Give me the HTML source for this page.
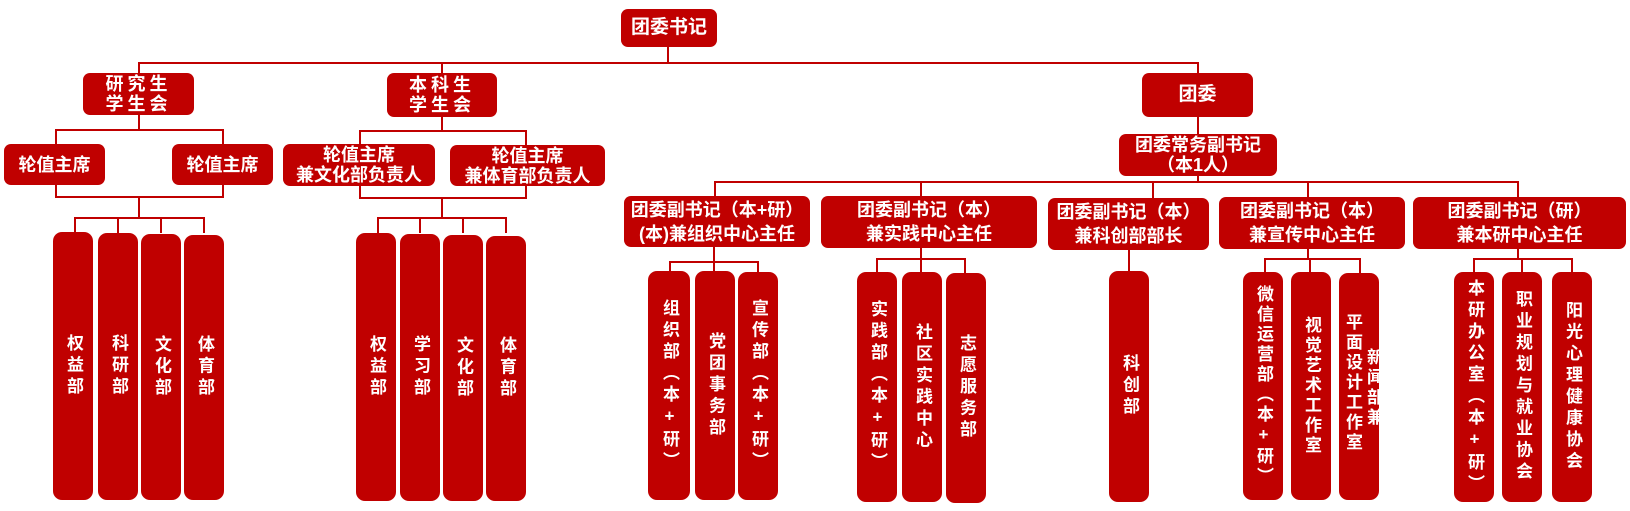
<!DOCTYPE html>
<html><head><meta charset="utf-8"><style>
body{margin:0;width:1630px;height:511px;background:#fff;position:relative;overflow:hidden;font-family:"Liberation Sans","Noto Sans CJK SC",sans-serif;}
.b{position:absolute;background:#c00000;border-radius:7px;color:#fff;font-weight:bold;font-size:18px;line-height:24px;display:flex;align-items:center;justify-content:center;text-align:center;white-space:nowrap;}
.v{position:absolute;background:#c00000;border-radius:9px;color:#fff;font-weight:bold;font-size:17px;writing-mode:vertical-rl;text-orientation:upright;letter-spacing:4.5px;display:flex;align-items:center;justify-content:center;line-height:40px;}
.l{position:absolute;background:#c00000;}
.t{position:absolute;color:#fff;font-weight:bold;font-size:17px;writing-mode:vertical-rl;text-orientation:upright;letter-spacing:3px;line-height:20px;}
</style></head><body>
<!-- lines -->
<div class="l" style="left:667px;top:47px;width:2px;height:17px"></div>
<div class="l" style="left:139px;top:62px;width:1060px;height:2px"></div>
<div class="l" style="left:138px;top:62px;width:2px;height:12px"></div>
<div class="l" style="left:441px;top:62px;width:2px;height:12px"></div>
<div class="l" style="left:1197px;top:62px;width:2px;height:12px"></div>

<div class="l" style="left:138px;top:115px;width:2px;height:16px"></div>
<div class="l" style="left:55px;top:129px;width:169px;height:2px"></div>
<div class="l" style="left:55px;top:129px;width:2px;height:16px"></div>
<div class="l" style="left:222px;top:129px;width:2px;height:16px"></div>
<div class="l" style="left:55px;top:184px;width:2px;height:14px"></div>
<div class="l" style="left:222px;top:184px;width:2px;height:14px"></div>
<div class="l" style="left:55px;top:196px;width:169px;height:2px"></div>
<div class="l" style="left:138px;top:196px;width:2px;height:23px"></div>
<div class="l" style="left:74px;top:217px;width:131px;height:2px"></div>
<div class="l" style="left:74px;top:217px;width:2px;height:16px"></div>
<div class="l" style="left:117px;top:217px;width:2px;height:16px"></div>
<div class="l" style="left:160px;top:217px;width:2px;height:16px"></div>
<div class="l" style="left:203px;top:217px;width:2px;height:16px"></div>

<div class="l" style="left:441px;top:117px;width:2px;height:15px"></div>
<div class="l" style="left:359px;top:130px;width:168px;height:2px"></div>
<div class="l" style="left:359px;top:130px;width:2px;height:15px"></div>
<div class="l" style="left:525px;top:130px;width:2px;height:15px"></div>
<div class="l" style="left:359px;top:185px;width:2px;height:14px"></div>
<div class="l" style="left:525px;top:185px;width:2px;height:14px"></div>
<div class="l" style="left:359px;top:197px;width:168px;height:2px"></div>
<div class="l" style="left:441px;top:197px;width:2px;height:22px"></div>
<div class="l" style="left:377px;top:217px;width:130px;height:2px"></div>
<div class="l" style="left:377px;top:217px;width:2px;height:16px"></div>
<div class="l" style="left:419px;top:217px;width:2px;height:16px"></div>
<div class="l" style="left:462px;top:217px;width:2px;height:16px"></div>
<div class="l" style="left:505px;top:217px;width:2px;height:16px"></div>

<div class="l" style="left:1197px;top:117px;width:2px;height:17px"></div>
<div class="l" style="left:1197px;top:176px;width:2px;height:7px"></div>
<div class="l" style="left:714px;top:181px;width:805px;height:2px"></div>
<div class="l" style="left:714px;top:181px;width:2px;height:16px"></div>
<div class="l" style="left:920px;top:181px;width:2px;height:16px"></div>
<div class="l" style="left:1152px;top:181px;width:2px;height:18px"></div>
<div class="l" style="left:1307px;top:181px;width:2px;height:17px"></div>
<div class="l" style="left:1517px;top:181px;width:2px;height:17px"></div>

<div class="l" style="left:713px;top:247px;width:2px;height:16px"></div>
<div class="l" style="left:669px;top:261px;width:90px;height:2px"></div>
<div class="l" style="left:669px;top:261px;width:2px;height:11px"></div>
<div class="l" style="left:713px;top:261px;width:2px;height:11px"></div>
<div class="l" style="left:757px;top:261px;width:2px;height:11px"></div>

<div class="l" style="left:920px;top:248px;width:2px;height:12px"></div>
<div class="l" style="left:876px;top:258px;width:90px;height:2px"></div>
<div class="l" style="left:876px;top:258px;width:2px;height:15px"></div>
<div class="l" style="left:920px;top:258px;width:2px;height:15px"></div>
<div class="l" style="left:964px;top:258px;width:2px;height:15px"></div>

<div class="l" style="left:1128px;top:250px;width:2px;height:22px"></div>

<div class="l" style="left:1307px;top:249px;width:2px;height:11px"></div>
<div class="l" style="left:1264px;top:258px;width:97px;height:2px"></div>
<div class="l" style="left:1264px;top:258px;width:2px;height:15px"></div>
<div class="l" style="left:1309px;top:258px;width:2px;height:15px"></div>
<div class="l" style="left:1359px;top:258px;width:2px;height:15px"></div>

<div class="l" style="left:1517px;top:249px;width:2px;height:11px"></div>
<div class="l" style="left:1473px;top:258px;width:100px;height:2px"></div>
<div class="l" style="left:1473px;top:258px;width:2px;height:15px"></div>
<div class="l" style="left:1521px;top:258px;width:2px;height:15px"></div>
<div class="l" style="left:1571px;top:258px;width:2px;height:15px"></div>

<!-- boxes -->
<div class="b" style="left:621px;top:9px;width:96px;height:38px;font-size:19px">团委书记</div>
<div class="b" style="left:83px;top:73px;width:111px;height:42px;letter-spacing:4px;line-height:20px">研究生<br>学生会</div>
<div class="b" style="left:387px;top:73px;width:110px;height:44px;letter-spacing:4px;line-height:20px">本科生<br>学生会</div>
<div class="b" style="left:1142px;top:73px;width:111px;height:44px;font-size:19px">团委</div>
<div class="b" style="left:4px;top:144px;width:101px;height:41px">轮值主席</div>
<div class="b" style="left:172px;top:144px;width:101px;height:41px">轮值主席</div>
<div class="b" style="left:283px;top:144px;width:152px;height:42px;line-height:20px">轮值主席<br>兼文化部负责人</div>
<div class="b" style="left:450px;top:145px;width:155px;height:41px;line-height:20px">轮值主席<br>兼体育部负责人</div>
<div class="b" style="left:1119px;top:134px;width:158px;height:42px;line-height:20px">团委常务副书记<br>（本1人）</div>
<div class="b" style="left:624px;top:196px;width:186px;height:51px">团委副书记（本+研）<br>(本)兼组织中心主任</div>
<div class="b" style="left:821px;top:196px;width:216px;height:52px">团委副书记（本）<br>兼实践中心主任</div>
<div class="b" style="left:1048px;top:198px;width:161px;height:52px">团委副书记（本）<br>兼科创部部长</div>
<div class="b" style="left:1219px;top:197px;width:186px;height:52px">团委副书记（本）<br>兼宣传中心主任</div>
<div class="b" style="left:1413px;top:197px;width:213px;height:52px">团委副书记（研）<br>兼本研中心主任</div>

<!-- vertical boxes -->
<div class="v" style="left:53px;top:232px;width:40px;height:268px">权益部</div>
<div class="v" style="left:98px;top:233px;width:40px;height:267px">科研部</div>
<div class="v" style="left:141px;top:234px;width:40px;height:266px">文化部</div>
<div class="v" style="left:184px;top:235px;width:40px;height:265px">体育部</div>
<div class="v" style="left:356px;top:233px;width:40px;height:268px">权益部</div>
<div class="v" style="left:400px;top:234px;width:40px;height:267px">学习部</div>
<div class="v" style="left:443px;top:235px;width:40px;height:266px">文化部</div>
<div class="v" style="left:486px;top:236px;width:40px;height:265px">体育部</div>
<div class="v" style="left:648px;top:271px;width:42px;height:229px">组织部（本+研）</div>
<div class="v" style="left:695px;top:271px;width:40px;height:229px">党团事务部</div>
<div class="v" style="left:738px;top:272px;width:40px;height:228px">宣传部（本+研）</div>
<div class="v" style="left:857px;top:272px;width:40px;height:230px">实践部（本+研）</div>
<div class="v" style="left:902px;top:272px;width:40px;height:230px">社区实践中心</div>
<div class="v" style="left:946px;top:273px;width:40px;height:230px">志愿服务部</div>
<div class="v" style="left:1109px;top:271px;width:40px;height:231px">科创部</div>
<div class="v" style="left:1243px;top:272px;width:40px;height:228px;letter-spacing:3px">微信运营部（本+研）</div>
<div class="v" style="left:1291px;top:272px;width:40px;height:228px;letter-spacing:3px">视觉艺术工作室</div>
<div class="v" style="left:1339px;top:273px;width:40px;height:227px"></div>
<div class="t" style="left:1342px;top:313px">平面设计工作室</div>
<div class="t" style="left:1363px;top:348px">新闻部兼</div>
<div class="v" style="left:1454px;top:272px;width:40px;height:230px">本研办公室（本+研）</div>
<div class="v" style="left:1502px;top:272px;width:40px;height:230px">职业规划与就业协会</div>
<div class="v" style="left:1552px;top:272px;width:40px;height:230px">阳光心理健康协会</div>
</body></html>
